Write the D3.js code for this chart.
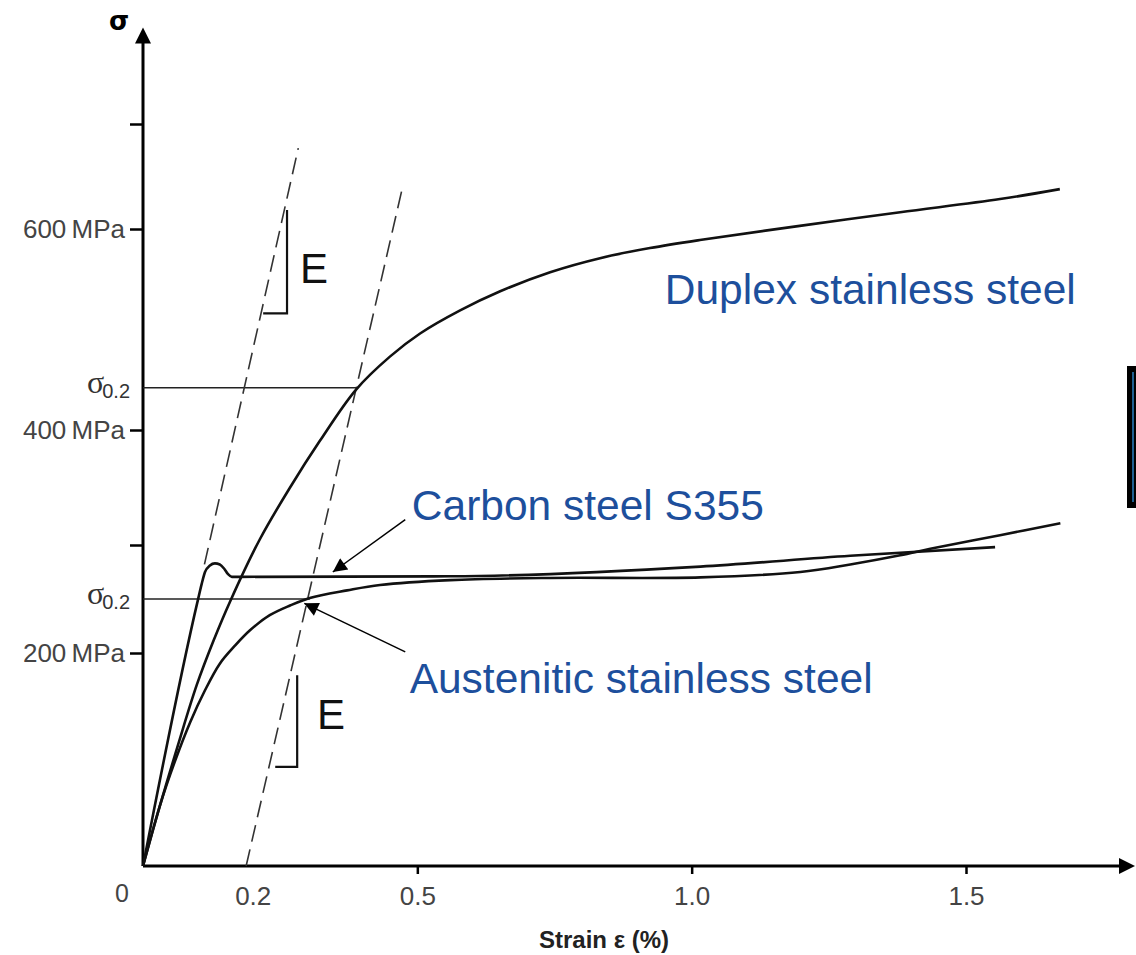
<!DOCTYPE html>
<html>
<head>
<meta charset="utf-8">
<title>Stress-strain curves</title>
<script src="https://cdn.jsdelivr.net/npm/d3@7"></script>
<style>
  body { margin: 0; background: #fff; }
  svg { display: block; }
</style>
</head>
<body>
<div id="chart"></div>
<script>
// strain in %, stress in MPa
const duplexCurve = [
  [0, 0], [0.031, 57], [0.064, 114], [0.098, 170], [0.129, 212], [0.159, 248],
  [0.213, 305], [0.268, 350], [0.323, 391], [0.388, 440], [0.450, 473],
  [0.505, 496], [0.578, 519], [0.651, 538], [0.742, 557], [0.833, 571],
  [0.924, 581], [1.015, 589], [1.197, 603], [1.380, 616], [1.562, 628.5], [1.671, 638]
];
const carbonCurve = [
  [0, 0], [0.100, 249], [0.107, 264], [0.113, 275], [0.122, 281], [0.131, 283],
  [0.140, 282], [0.148, 278], [0.155, 273], [0.162, 270.5], [0.177, 270.5],
  [0.560, 271], [1.016, 280], [1.289, 290], [1.553, 298]
];
const austeniticCurve = [
  [0, 0], [0.031, 57], [0.058, 98], [0.086, 135], [0.113, 165], [0.140, 190],
  [0.168, 207], [0.195, 221], [0.231, 235], [0.268, 244], [0.304, 251],
  [0.372, 258], [0.432, 263], [0.560, 267.5], [0.742, 269.5], [1.016, 270],
  [1.198, 275], [1.289, 282], [1.380, 290.5], [1.435, 296.5], [1.562, 308.5], [1.672, 319]
];

const strainTicks = [0.5, 1.0, 1.5];
const strainLabels = [0.2, 0.5, 1.0, 1.5];
const stressTicks = [200, 300, 400, 600, 700];
const stressLabels = [200, 400, 600];

// 0.2% proof stress: duplex, austenitic
const proofStress = [442, 250];
const proofStrain = [0.390, 0.304];

// elastic slope line and 0.2% offset line
const elasticLine = [[0.112, 282], [0.283, 677]];
const offsetLine = [[0.188, 0], [0.474, 642]];

const width = 1136;
const height = 955;
const blue = '#1d4f9c';

const svg = d3.select('#chart')
  .append('svg')
  .attr('width', width)
  .attr('height', height);

// the drawing's stress axis is not quite evenly spaced
const x = d3.scaleLinear().domain([0, 1.5]).range([143, 966]);
const y = d3.scaleLinear()
  .domain([0, 200, 300, 400, 600, 700])
  .range([866, 653, 545, 430, 229, 124]);

const xEnd = 1.808;
const yEnd = 792;

// x axis ticks + labels
const xAxis = svg.append('g')
  .attr('transform', `translate(0,${y(0)})`)
  .call(d3.axisBottom(x)
    .tickValues(strainLabels)
    .tickSize(8)
    .tickPadding(13)
    .tickFormat(d3.format('.1f')));
xAxis.select('.domain').remove();
xAxis.selectAll('.tick line')
  .attr('stroke', '#000')
  .attr('stroke-width', 2.5)
  .attr('display', d => strainTicks.includes(d) ? null : 'none');
xAxis.selectAll('.tick text')
  .attr('fill', '#444')
  .style('font-family', 'Liberation Sans, Arial, sans-serif')
  .style('font-size', '26px');

// y axis ticks + labels
const yAxis = svg.append('g')
  .attr('transform', `translate(${x(0)},0)`)
  .call(d3.axisLeft(y)
    .tickValues(stressTicks)
    .tickSize(13)
    .tickPadding(5)
    .tickFormat(d => stressLabels.includes(d) ? d + '\u2009MPa' : ''));
yAxis.select('.domain').remove();
yAxis.selectAll('.tick line')
  .attr('stroke', '#000')
  .attr('stroke-width', 2.5);
yAxis.selectAll('.tick text')
  .attr('fill', '#444')
  .style('font-family', 'Liberation Sans, Arial, sans-serif')
  .style('font-size', '26px');

// axis lines with arrow heads
svg.append('line')
  .attr('x1', x(0)).attr('y1', y(0))
  .attr('x2', x(xEnd) - 10).attr('y2', y(0))
  .attr('stroke', '#000').attr('stroke-width', 3);
svg.append('path')
  .attr('d', `M${x(xEnd)},${y(0)} l-16,-8 l0,16 Z`)
  .attr('fill', '#000');
svg.append('line')
  .attr('x1', x(0)).attr('y1', y(0))
  .attr('x2', x(0)).attr('y2', y(yEnd) + 10)
  .attr('stroke', '#000').attr('stroke-width', 3);
svg.append('path')
  .attr('d', `M${x(0)},${y(yEnd)} l-8,16 l16,0 Z`)
  .attr('fill', '#000');

svg.append('text')
  .attr('x', 122).attr('y', 902)
  .attr('text-anchor', 'middle')
  .attr('fill', '#444')
  .style('font-family', 'Liberation Sans, Arial, sans-serif')
  .style('font-size', '25px')
  .text('0');

svg.append('text')
  .attr('x', 119).attr('y', 30)
  .attr('text-anchor', 'middle')
  .style('font-family', 'DejaVu Sans, sans-serif')
  .style('font-weight', 'bold')
  .style('font-size', '26px')
  .text('σ');

svg.append('text')
  .attr('x', 604).attr('y', 948)
  .attr('text-anchor', 'middle')
  .attr('fill', '#222')
  .style('font-family', 'Liberation Sans, Arial, sans-serif')
  .style('font-weight', 'bold')
  .style('font-size', '24px')
  .text('Strain ε (%)');

// proof stress lines + σ0.2 labels
proofStress.forEach((s, i) => {
  svg.append('line')
    .attr('x1', x(0)).attr('y1', y(s))
    .attr('x2', x(proofStrain[i])).attr('y2', y(s))
    .attr('stroke', '#222').attr('stroke-width', 1.4);
  const t = svg.append('text')
    .attr('x', 87).attr('y', y(s) + 5)
    .attr('fill', '#333')
    .style('font-family', 'Liberation Serif, serif')
    .style('font-size', '32px');
  t.append('tspan').text('σ');
  t.append('tspan')
    .attr('dy', 5)
    .attr('dx', -2)
    .style('font-family', 'Liberation Sans, Arial, sans-serif')
    .style('font-size', '20px')
    .text('0.2');
});

// dashed E lines
const straight = d3.line().x(d => x(d[0])).y(d => y(d[1]));
[elasticLine, offsetLine].forEach(l => {
  svg.append('path')
    .attr('d', straight(l))
    .attr('fill', 'none')
    .attr('stroke', '#333')
    .attr('stroke-width', 1.6)
    .attr('stroke-dasharray', '17,8');
});

// curves
const smooth = d3.line()
  .x(d => x(d[0]))
  .y(d => y(d[1]))
  .curve(d3.curveCatmullRom.alpha(0.5));
const mono = d3.line()
  .x(d => x(d[0]))
  .y(d => y(d[1]))
  .curve(d3.curveMonotoneX);

[[duplexCurve, smooth], [carbonCurve, mono], [austeniticCurve, smooth]].forEach(([c, gen]) => {
  svg.append('path')
    .attr('d', gen(c))
    .attr('fill', 'none')
    .attr('stroke', '#111')
    .attr('stroke-width', 2.6)
    .attr('stroke-linejoin', 'round');
});

// E slope brackets
const brackets = [
  { x0: 0.219, x1: 0.2625, lo: 516, hi: 618, tx: 300, ty: 546 },
  { x0: 0.241, x1: 0.281, lo: 93, hi: 179, tx: 317, ty: 129 }
];
brackets.forEach(b => {
  svg.append('path')
    .attr('d', `M${x(b.x0)},${y(b.lo)} H${x(b.x1)} V${y(b.hi)}`)
    .attr('fill', 'none')
    .attr('stroke', '#111')
    .attr('stroke-width', 2.2);
  svg.append('text')
    .attr('x', b.tx).attr('y', y(b.ty))
    .style('font-family', 'Liberation Sans, Arial, sans-serif')
    .style('font-size', '42px')
    .attr('fill', '#111')
    .text('E');
});

// labels
svg.append('defs').append('marker')
  .attr('id', 'head')
  .attr('viewBox', '0 0 10 10')
  .attr('refX', 10).attr('refY', 5)
  .attr('markerWidth', 20).attr('markerHeight', 14)
  .attr('markerUnits', 'userSpaceOnUse')
  .attr('orient', 'auto')
  .append('path')
  .attr('d', 'M0,0 L10,5 L0,10 Z')
  .attr('fill', '#000');

const labels = [
  { text: 'Duplex stainless steel', sx: 0.951, sy: 525 },
  { text: 'Carbon steel S355', sx: 0.490, sy: 322, from: [0.478, 322], to: [0.346, 275] },
  { text: 'Austenitic stainless steel', sx: 0.486, sy: 162.5, from: [0.478, 201], to: [0.294, 246] }
];
labels.forEach(l => {
  svg.append('text')
    .attr('x', x(l.sx)).attr('y', y(l.sy))
    .attr('fill', blue)
    .style('font-family', 'Liberation Sans, Arial, sans-serif')
    .style('font-size', '42.5px')
    .text(l.text);
  if (l.from) {
    svg.append('line')
      .attr('x1', x(l.from[0])).attr('y1', y(l.from[1]))
      .attr('x2', x(l.to[0])).attr('y2', y(l.to[1]))
      .attr('stroke', '#000')
      .attr('stroke-width', 1.5)
      .attr('marker-end', 'url(#head)');
  }
});

// cut-off box at the right edge
svg.append('rect')
  .attr('x', 1127).attr('y', 366)
  .attr('width', 12).attr('height', 142)
  .attr('fill', '#000');
svg.append('line')
  .attr('x1', 1133).attr('y1', 372)
  .attr('x2', 1133).attr('y2', 502)
  .attr('stroke', '#2a7fc0').attr('stroke-width', 1.5);
</script>
</body>
</html>
